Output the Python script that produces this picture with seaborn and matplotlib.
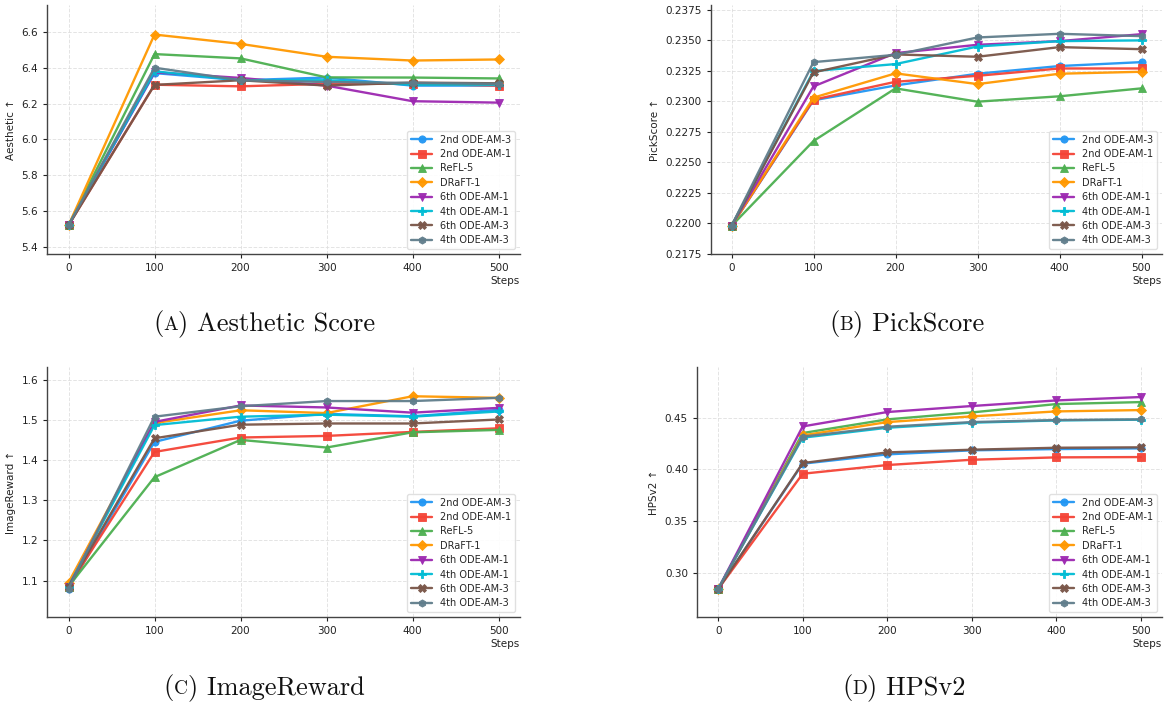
import matplotlib
matplotlib.use("Agg")
import matplotlib.pyplot as plt
import seaborn as sns
import pandas as pd

steps = [0, 100, 200, 300, 400, 500]
methods = ["2nd ODE-AM-3", "2nd ODE-AM-1", "ReFL-5", "DRaFT-1",
           "6th ODE-AM-1", "4th ODE-AM-1", "6th ODE-AM-3", "4th ODE-AM-3"]
colors = ["#2196F3", "#F44336", "#4CAF50", "#FF9800",
          "#9C27B0", "#00BCD4", "#795548", "#607D8B"]
markers = ["o", "s", "^", "D", "v", "P", "X", "h"]

aesthetic = {
    "2nd ODE-AM-3": [5.52, 6.37, 6.33, 6.345, 6.30, 6.30],
    "2nd ODE-AM-1": [5.52, 6.305, 6.296, 6.31, 6.31, 6.30],
    "ReFL-5": [5.52, 6.476, 6.452, 6.346, 6.345, 6.34],
    "DRaFT-1": [5.52, 6.585, 6.533, 6.461, 6.44, 6.446],
    "6th ODE-AM-1": [5.52, 6.374, 6.343, 6.30, 6.213, 6.205],
    "4th ODE-AM-1": [5.52, 6.38, 6.33, 6.33, 6.305, 6.305],
    "6th ODE-AM-3": [5.52, 6.304, 6.33, 6.30, 6.317, 6.313],
    "4th ODE-AM-3": [5.52, 6.40, 6.33, 6.32, 6.315, 6.31],
}
pickscore = {
    "2nd ODE-AM-3": [0.2198, 0.23009, 0.23131, 0.23227, 0.2329, 0.23322],
    "2nd ODE-AM-1": [0.2198, 0.23014, 0.23161, 0.2321, 0.2327, 0.2327],
    "ReFL-5": [0.2198, 0.22676, 0.23107, 0.22998, 0.23042, 0.23107],
    "DRaFT-1": [0.2198, 0.23031, 0.2323, 0.23142, 0.23227, 0.23243],
    "6th ODE-AM-1": [0.2198, 0.23123, 0.23396, 0.23464, 0.23494, 0.23551],
    "4th ODE-AM-1": [0.2198, 0.23249, 0.23306, 0.2345, 0.23494, 0.235],
    "6th ODE-AM-3": [0.2198, 0.23238, 0.23385, 0.23366, 0.23445, 0.23428],
    "4th ODE-AM-3": [0.2198, 0.23322, 0.23382, 0.23524, 0.23554, 0.23535],
}
imagereward = {
    "2nd ODE-AM-3": [1.08, 1.446, 1.499, 1.516, 1.51, 1.526],
    "2nd ODE-AM-1": [1.085, 1.421, 1.457, 1.461, 1.471, 1.48],
    "ReFL-5": [1.085, 1.358, 1.451, 1.432, 1.47, 1.476],
    "DRaFT-1": [1.095, 1.493, 1.525, 1.518, 1.56, 1.556],
    "6th ODE-AM-1": [1.085, 1.496, 1.537, 1.532, 1.519, 1.531],
    "4th ODE-AM-1": [1.085, 1.488, 1.509, 1.514, 1.509, 1.522],
    "6th ODE-AM-3": [1.085, 1.455, 1.489, 1.492, 1.492, 1.502],
    "4th ODE-AM-3": [1.08, 1.509, 1.535, 1.548, 1.548, 1.556],
}
hpsv2 = {
    "2nd ODE-AM-3": [0.2845, 0.4056, 0.4146, 0.4185, 0.4197, 0.4204],
    "2nd ODE-AM-1": [0.2845, 0.3959, 0.4043, 0.4094, 0.4117, 0.412],
    "ReFL-5": [0.2845, 0.4352, 0.4484, 0.4551, 0.4632, 0.4651],
    "DRaFT-1": [0.2845, 0.4329, 0.4458, 0.4513, 0.4561, 0.4574],
    "6th ODE-AM-1": [0.2845, 0.4416, 0.4555, 0.4613, 0.4667, 0.470],
    "4th ODE-AM-1": [0.2845, 0.4307, 0.4403, 0.4452, 0.4474, 0.4481],
    "6th ODE-AM-3": [0.2845, 0.4062, 0.4165, 0.4191, 0.4210, 0.4214],
    "4th ODE-AM-3": [0.2845, 0.4317, 0.4413, 0.4458, 0.4477, 0.4484],
}

panels = [
    # data, ylabel, ylim, yticks, fmt, axes rect (px: left, top, right, bottom), caption letter, caption
    (aesthetic, "Aesthetic ↑", (5.36, 6.75), [5.4, 5.6, 5.8, 6.0, 6.2, 6.4, 6.6], "{:.1f}",
     (47, 5, 520, 254), "A", "Aesthetic Score", 264, 323),
    (pickscore, "PickScore ↑", (0.2175, 0.2379),
     [0.2175, 0.22, 0.2225, 0.225, 0.2275, 0.23, 0.2325, 0.235, 0.2375], "{:.4f}",
     (711, 5, 1162, 254), "B", "PickScore", 907, 323),
    (imagereward, "ImageReward ↑", (1.009, 1.633), [1.1, 1.2, 1.3, 1.4, 1.5, 1.6], "{:.1f}",
     (47, 367, 520, 617), "C", "ImageReward", 264, 687),
    (hpsv2, "HPSv2 ↑", (0.2575, 0.499), [0.30, 0.35, 0.40, 0.45], "{:.2f}",
     (697, 367, 1162, 617), "D", "HPSv2", 904, 687),
]

sns.set_style("ticks")
plt.rcParams["font.family"] = ["DejaVu Sans"]

W, H = 1167, 703
fig = plt.figure(figsize=(W / 100, H / 100), dpi=100)


def add_caption(fig, xc, yc, letter, title):
    # small caps letter: "(" big, letter small, ")" + title big
    r = fig.canvas.get_renderer()
    pieces = [("(", 19), (letter, 14), (") " + title, 19)]
    texts = []
    for s, fs in pieces:
        t = fig.text(0, 1 - yc / H, s, fontsize=fs, family="cmr10",
                     va="baseline", ha="left", color="#111111")
        texts.append(t)
    widths = [t.get_window_extent(renderer=r).width for t in texts]
    x = xc - sum(widths) / 2
    for t, w in zip(texts, widths):
        t.set_x(x / W)
        t.set_y(1 - (yc + 7) / H)
        x += w


for data, ylabel, ylim, yticks, fmt, rect, letter, cap, cx, cy in panels:
    l, t, rr, b = rect
    ax = fig.add_axes([l / W, 1 - b / H, (rr - l) / W, (b - t) / H])
    rows = []
    for m in methods:
        for s, v in zip(steps, data[m]):
            rows.append({"Steps": s, "value": v, "method": m})
    df = pd.DataFrame(rows)
    sns.lineplot(data=df, x="Steps", y="value", hue="method", style="method",
                 hue_order=methods, style_order=methods,
                 palette=dict(zip(methods, colors)),
                 markers=dict(zip(methods, markers)), dashes=False,
                 linewidth=1.7, markersize=5.2, markeredgewidth=0.6,
                 alpha=0.95, ax=ax)
    for ln in ax.lines:
        ln.set_markeredgecolor(ln.get_color())
    ax.set_xlim(-25, 525)
    ax.set_ylim(*ylim)
    ax.set_xticks(steps)
    ax.set_yticks(yticks)
    ax.set_yticklabels([fmt.format(v) for v in yticks])
    ax.tick_params(labelsize=7.5, colors="#222222", length=3, width=0.8)
    ax.set_ylabel(ylabel, fontsize=7.5, color="#222222")
    ax.set_xlabel("Steps", fontsize=7.5, loc="right", color="#222222", labelpad=2)
    ax.grid(True, linestyle="--", linewidth=0.7, color="#dddddd", alpha=0.8)
    ax.set_axisbelow(True)
    sns.despine(ax=ax)
    for sp in ("left", "bottom"):
        ax.spines[sp].set_color("#444444")
        ax.spines[sp].set_linewidth(1.0)
    leg = ax.legend(loc="lower right", fontsize=7, frameon=True, framealpha=0.9,
                    edgecolor="#dddddd", labelspacing=0.45, handlelength=2.2,
                    borderpad=0.4, markerscale=1.0)
    for h in leg.legend_handles:
        h.set_markeredgecolor(h.get_color())
    add_caption(fig, cx, cy, letter, cap)

fig.savefig("out.png", dpi=100)
